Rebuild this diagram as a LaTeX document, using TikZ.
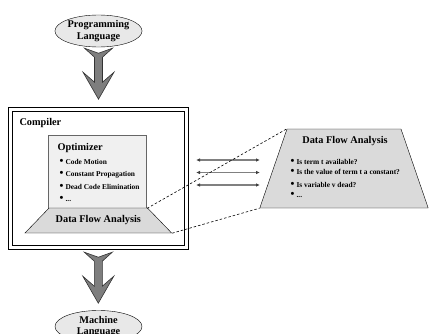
\documentclass[tikz,border=0pt]{standalone}
\usepackage{fontspec}
\setmainfont{Liberation Serif}
\usetikzlibrary{shapes.geometric,arrows.meta}

\definecolor{ovalgray}{HTML}{E8E8E8}
\definecolor{boxgray}{HTML}{F0F0F0}
\definecolor{trapgray}{HTML}{DADADA}
\definecolor{arrowgray}{HTML}{7E7E7E}
\definecolor{linegray}{HTML}{808080}

\newcommand{\bul}{{\fontsize{11}{9}\selectfont\textbullet}\hspace{2pt}}

\begin{document}
\begin{tikzpicture}[x=1pt, y=1pt,
    title/.style={font=\fontsize{10.3}{11.5}\selectfont\bfseries},
    item/.style={font=\fontsize{7.4}{9}\selectfont\bfseries, anchor=west, inner sep=0pt},
    lang/.style={ellipse, draw, fill=ovalgray, minimum width=87pt, minimum height=32pt,
        inner sep=0pt, align=center, title},
    trap/.style={trapezium, draw, fill=trapgray, inner sep=0pt},
    flow/.style={{Latex[length=4pt,width=3.5pt,color=black!75]}-{Latex[length=4pt,width=3.5pt,color=black!75]},
        draw=linegray, line width=1.3pt},
    bigarrow/.pic={
        \draw[fill=arrowgray, draw=black!80, line width=0.6pt]
            (-14,0) -- (0,-5) -- (14,0) -- (4,-9) -- (4,-34) -- (15.5,-24) -- (0,-51)
            -- (-15.5,-24) -- (-4,-34) -- (-4,-9) -- cycle;
    }]
    \useasboundingbox (0,0) rectangle (429,333);

    % Nodes
    \node[lang] (prog) at (98.5,302) {Programming\\Language};
    \node[lang] (mach) at (98.5,6.5) {Machine\\Language};
    \node[draw, double, double distance=3.1pt, line width=0.9pt,
        minimum width=176pt, minimum height=137.7pt] (comp) at (98.3,154.6) {};
    \node[title, anchor=west] (compt) at (16,210) {Compiler};
    \node[draw=black!60, fill=boxgray, line width=0.7pt,
        minimum width=98.4pt, minimum height=73pt] (opt) at (97.5,161.5) {};
    \node[trap, trapezium angle=46, title] (flow) at (98.3,112.5)
        {\parbox[c][25pt][c]{98.4pt}{\centering Data Flow Analysis}};
    \node[trap, trapezium angle=71] (dfa) at (344,164.5)
        {\parbox[c][79pt][c]{114pt}{\mbox{}}};

    % Labels
    \node[title, anchor=west] (optt) at (54,185.3) {Optimizer};
    \node[item] (o1) at (59.5,170.7) {\bul Code Motion};
    \node[item] (o2) at (59.5,158.7) {\bul Constant Propagation};
    \node[item] (o3) at (59.5,146) {\bul Dead Code Elimination};
    \node[item] (o4) at (59.5,134) {\bul ...};

    \node[title] (dfat) at (345,192) {Data Flow Analysis};
    \node[item] (d1) at (290.5,170.7) {\bul Is term t available?};
    \node[item] (d2) at (290.5,160.7) {\bul Is the value of term t a constant?};
    \node[item] (d3) at (290.5,148) {\bul Is variable v dead?};
    \node[item] (d4) at (290.5,137.7) {\bul ...};

    % Arrows
    \pic at ([yshift=-1pt]prog.south) {bigarrow};
    \pic at ([yshift=-4.5pt]comp.south) {bigarrow};
    \foreach \y [count=\i] in {173,160.5,148} {
        \coordinate (fl\i) at (196,\y);
        \coordinate (fr\i) at (260,\y);
        \draw[flow] (fl\i) -- (fr\i);
    }

    % Zoom lines
    \draw[dashed, dash pattern=on 2.5pt off 2pt, line width=0.6pt] (opt.south east) -- (dfa.top left corner);
    \draw[dashed, dash pattern=on 2.5pt off 2pt, line width=0.6pt] (flow.bottom right corner) -- (dfa.bottom left corner);
\end{tikzpicture}
\end{document}
